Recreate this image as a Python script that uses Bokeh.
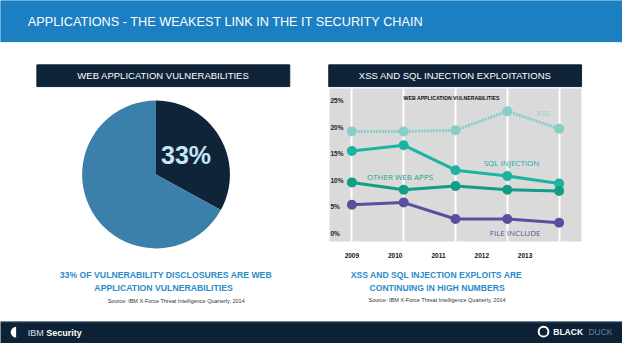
import numpy as np
from bokeh.plotting import figure
from bokeh.layouts import column, row
from bokeh.models import Range1d, LinearAxis, FixedTicker, Grid, Span
from bokeh.core.properties import value
from bokeh.embed import file_html
from bokeh.resources import INLINE

# ---------------- data ----------------
years = [2009, 2010, 2011, 2012, 2013]
year_labels = ["2009", "2010", "2011", "2012", "2013"]
xss = [19.2, 19.2, 19.4, 23.0, 19.7]
sql_injection = [15.5, 16.6, 11.9, 10.8, 9.4]
other_web_apps = [9.6, 8.2, 8.9, 8.2, 8.0]
file_include = [5.4, 5.8, 2.7, 2.7, 2.0]
y_ticks = [0, 5, 10, 15, 20, 25]
y_tick_labels = ["0%", "5%", "10%", "15%", "20%", "25%"]
pie_labels = ["Web application vulnerabilities", "Other vulnerabilities"]
pie_values = [33, 67]

# ---------------- style ----------------
SANS_NAME = "Liberation Sans"
SANS = value(SANS_NAME)
OPEN = value("Open Sans")
BLUE = "#1b7fc2"
NAVY = "#0f2339"
PIE_LIGHT = "#3b80ab"
TITLE_BLUE = "#2a8bc9"
GRAY = "#dadada"
C_XSS = "#88cdc8"
C_SQL = "#1db3a3"
C_OTHER = "#129d88"
C_FILE = "#5a4ea0"


def base(width, height, xr, yr, bg="white"):
    f = figure(width=width, height=height, x_range=xr, y_range=yr,
               output_backend="svg", toolbar_location=None,
               x_axis_location=None, y_axis_location=None,
               min_border=0, outline_line_color=None,
               background_fill_color=bg, border_fill_color=bg)
    f.grid.visible = False
    return f


# ---------------- top: header + panel titles ----------------
top = base(622, 88, Range1d(0, 638), Range1d(-92, 0))
top.quad(left=[0], right=[638], top=[0], bottom=[-43], color=BLUE)
top.text(x=[28], y=[-22.5], text=["APPLICATIONS - THE WEAKEST LINK IN THE IT SECURITY CHAIN"],
         text_font=SANS, text_font_size="12.7px", text_color="white",
         text_align="left", text_baseline="middle")
top.quad(left=[37.3, 336.7], right=[296.7, 596], top=[-67.3, -67.3], bottom=[-90, -90], color=NAVY)
top.text(x=[167, 466.5], y=[-78.7, -78.7],
         text=["WEB APPLICATION VULNERABILITIES", "XSS AND SQL INJECTION EXPLOITATIONS"],
         text_font=SANS, text_font_size="9.5px", text_color="white",
         text_align="center", text_baseline="middle")

# ---------------- left: pie ----------------
left = base(329, 233, Range1d(0, 337), Range1d(-335, -92))
frac = np.array(pie_values, dtype=float) / sum(pie_values)
ends = np.pi / 2 - 2 * np.pi * np.concatenate([[0], np.cumsum(frac)[:-1]])
starts = np.pi / 2 - 2 * np.pi * np.cumsum(frac)
left.wedge(x=159.3, y=-181.7, radius=75.7, start_angle=starts, end_angle=ends,
           fill_color=[NAVY, PIE_LIGHT], line_color=None)
left.text(x=[190], y=[-161], text=[f"{pie_values[0]}%"],
          text_font=SANS, text_font_style="bold", text_font_size="25px",
          text_color="#c6e6f7", text_align="center", text_baseline="middle")
left.text(x=[169.5, 167], y=[-286.7, -300],
          text=["33% OF VULNERABILITY DISCLOSURES ARE WEB", "APPLICATION VULNERABILITIES"],
          text_font=SANS, text_font_style="bold", text_font_size="8.7px",
          text_color=TITLE_BLUE, text_align="center", text_baseline="middle")
left.text(x=[180], y=[-313.3], text=["Source: IBM X-Force Threat Intelligence Quarterly, 2014"],
          text_font=SANS, text_font_size="5.5px", text_color="#333333",
          text_align="center", text_baseline="middle")

# ---------------- right: line chart ----------------
chart = figure(width=293, height=172,
               x_range=Range1d(2008.568, 2013.432), y_range=Range1d(-1.53, 27.28),
               output_backend="svg", toolbar_location=None,
               x_axis_location=None, y_axis_location=None,
               min_border_left=0, min_border_top=0, min_border_right=41, min_border_bottom=15,
               outline_line_color=None, background_fill_color=GRAY, border_fill_color="white")
chart.grid.visible = False
chart.extra_x_ranges = {"lbl": Range1d(2008.483, 2014.303)}
chart.add_layout(Grid(dimension=0, ticker=FixedTicker(ticks=years),
                      grid_line_color="white", grid_line_width=2))
xax = LinearAxis(x_range_name="lbl", ticker=FixedTicker(ticks=years),
                 major_label_overrides={y: s for y, s in zip(years, year_labels)},
                 axis_line_color=None, major_tick_line_color=None, minor_tick_line_color=None,
                 major_label_text_font=SANS_NAME, major_label_text_font_style="bold",
                 major_label_text_font_size="6.5px", major_label_text_color="#111111",
                 major_label_standoff=5)
chart.add_layout(xax, "below")

chart.line(years, xss, line_color=C_XSS, line_width=3, line_dash="2 1")
chart.scatter(years, xss, size=10, fill_color=C_XSS, line_color=None)
chart.line(years, sql_injection, line_color=C_SQL, line_width=3)
chart.scatter(years, sql_injection, size=10, fill_color=C_SQL, line_color=None)
chart.line(years, other_web_apps, line_color=C_OTHER, line_width=3)
chart.scatter(years, other_web_apps, size=10, fill_color=C_OTHER, line_color=None)
chart.line(years, file_include, line_color=C_FILE, line_width=3)
chart.scatter(years, file_include, size=10, fill_color=C_FILE, line_color=None)

chart.text(x=[2008.568] * len(y_ticks), y=y_ticks, text=y_tick_labels, x_offset=1,
           text_font=SANS, text_font_style="bold", text_font_size="6.5px",
           text_color="#222222", text_align="left", text_baseline="middle")
chart.text(x=[2010.925], y=[25.4], text=["WEB APPLICATION VULNERABILITIES"],
           text_font=SANS, text_font_style="bold", text_font_size="5.2px",
           text_color="#111111", text_align="center", text_baseline="middle")
chart.text(x=[2012.69], y=[22.7], text=["XSS"], text_font=OPEN, text_font_size="8px",
           text_color="#8fd0cb", text_align="center", text_baseline="middle")
chart.text(x=[2012.08], y=[13.3], text=["SQL INJECTION"], text_font=OPEN, text_font_size="8px",
           text_color="#22a99b", text_align="center", text_baseline="middle")
chart.text(x=[2009.93], y=[10.65], text=["OTHER WEB APPS"], text_font=OPEN, text_font_size="8px",
           text_color="#1fa08e", text_align="center", text_baseline="middle")
chart.text(x=[2012.15], y=[0.23], text=["FILE INCLUDE"], text_font=OPEN, text_font_size="8px",
           text_color="#5b52a2", text_align="center", text_baseline="middle")

# ---------------- right: caption ----------------
rtext = base(293, 61, Range1d(337, 638), Range1d(-335, -272))
rtext.text(x=[465, 465.5], y=[-286.7, -300],
           text=["XSS AND SQL INJECTION EXPLOITS ARE", "CONTINUING IN HIGH NUMBERS"],
           text_font=SANS, text_font_style="bold", text_font_size="8.6px",
           text_color=TITLE_BLUE, text_align="center", text_baseline="middle")
rtext.text(x=[465.5], y=[-313.3], text=["Source: IBM X-Force Threat Intelligence Quarterly, 2014"],
           text_font=SANS, text_font_size="5.5px", text_color="#333333",
           text_align="center", text_baseline="middle")

# ---------------- footer ----------------
foot = base(622, 22, Range1d(0, 638), Range1d(-359, -335.7), bg="#0e2237")
foot.add_layout(Span(location=-336.2, dimension="width", line_color="#35506a", line_width=1))
foot.wedge(x=[16], y=[-347], radius=5.5, start_angle=np.pi / 2, end_angle=3 * np.pi / 2,
           fill_color="white", line_color=None)
foot.text(x=[28], y=[-347.5], text=["IBM"], text_font=SANS, text_font_size="9px",
          text_color="#dfe6ee", text_align="left", text_baseline="middle")
foot.text(x=[47], y=[-347.5], text=["Security"], text_font=SANS, text_font_style="bold",
          text_font_size="9px", text_color="white", text_align="left", text_baseline="middle")
foot.circle(x=[557], y=[-346.5], radius=5, fill_color=None, line_color="white", line_width=2)
foot.text(x=[567], y=[-347], text=["BLACK"], text_font=SANS, text_font_style="bold",
          text_font_size="8.5px", text_color="white", text_align="left", text_baseline="middle")
foot.text(x=[603], y=[-347], text=["DUCK"], text_font=SANS,
          text_font_size="8.5px", text_color="#6d7f92", text_align="left", text_baseline="middle")

p = column(top, row(left, column(chart, rtext)), foot)

open("out.html", "w").write(file_html(p, INLINE))
